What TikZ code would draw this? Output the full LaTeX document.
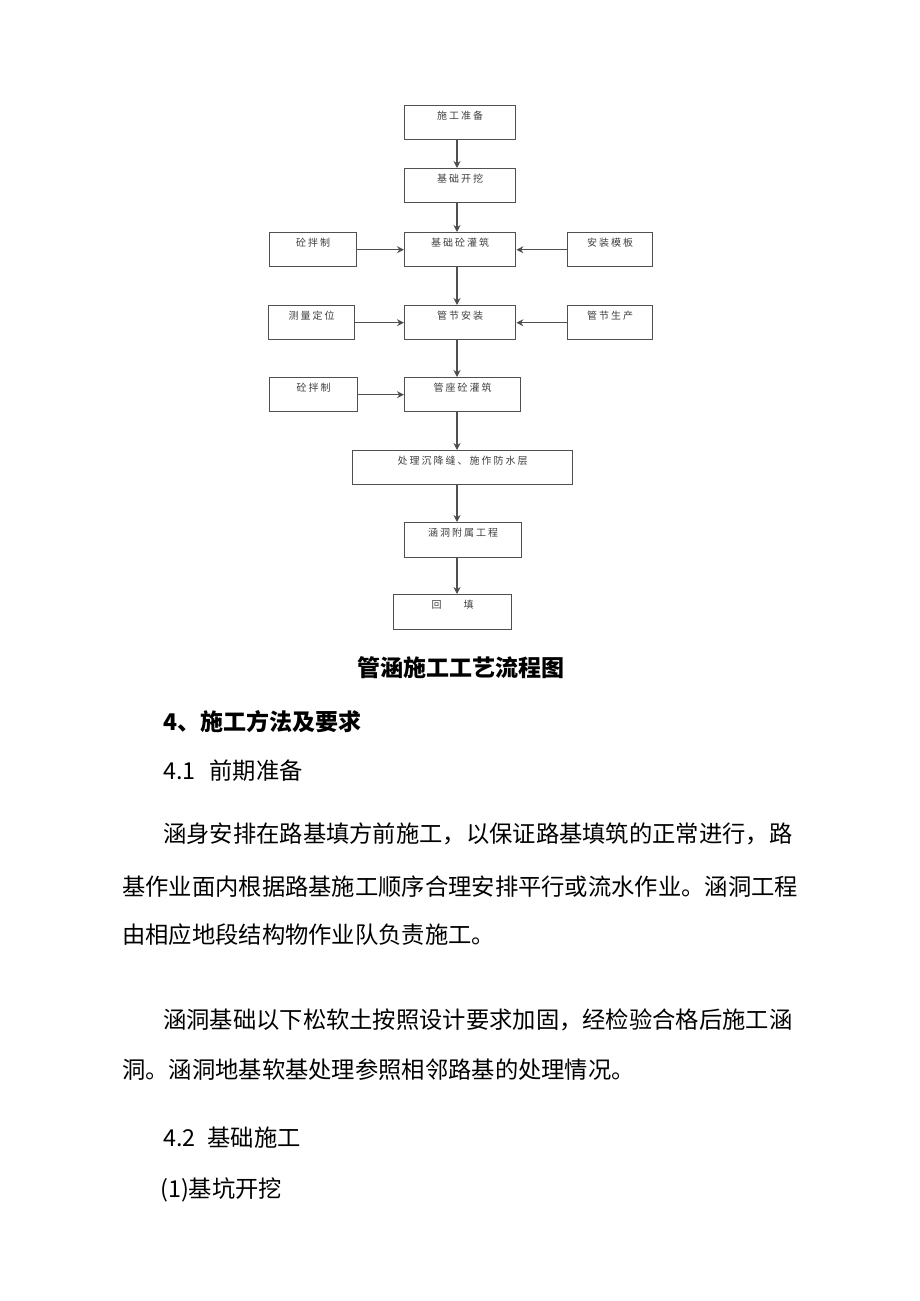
\documentclass[tikz,border=0pt]{standalone}
\usepackage{fontspec}
\setmainfont{Noto Sans CJK SC}
\newfontfamily\boxfont[LetterSpace=20]{Noto Sans CJK SC}
\usetikzlibrary{arrows.meta}
\definecolor{boxline}{HTML}{505050}
\definecolor{boxtext}{HTML}{404040}
\tikzset{
  fbox/.style={draw=boxline, line width=1.4pt, anchor=north west, inner sep=0pt,
    align=center, text height=13.5pt, text depth=20.5pt, text=boxtext,
    font=\boxfont\fontsize{10pt}{12pt}\selectfont},
  arr/.style={draw=boxline, line width=1.1pt, -{Stealth[length=7pt,width=7pt,fill=black]}},
  body/.style={anchor=west, inner sep=0pt, font=\fontsize{23.3pt}{26pt}\selectfont},
  bodyb/.style={anchor=west, inner sep=0pt, font=\bfseries\fontsize{23pt}{26pt}\selectfont},
}
\begin{document}
\begin{tikzpicture}[x=1pt,y=-1pt]
\useasboundingbox[fill=white] (0,0) rectangle (920,1301);
\coordinate (ax) at (457,0);
% main column
\node[fbox, minimum width=111pt, minimum height=34pt] (b1) at (404,105) {施工准备};
\node[fbox, minimum width=111pt, minimum height=34pt] (b2) at (404,168) {基础开挖};
\node[fbox, minimum width=111pt, minimum height=34pt] (b3) at (404,232) {基础砼灌筑};
\node[fbox, minimum width=87pt, minimum height=34pt] (l3) at (269,232) {砼拌制};
\node[fbox, minimum width=85pt, minimum height=34pt] (r3) at (567,232) {安装模板};
\node[fbox, minimum width=111pt, minimum height=34pt] (b4) at (404,305) {管节安装};
\node[fbox, minimum width=86pt, minimum height=34pt] (l4) at (268,305) {测量定位};
\node[fbox, minimum width=85pt, minimum height=34pt] (r4) at (567,305) {管节生产};
\node[fbox, minimum width=116pt, minimum height=34pt] (b5) at (404,377) {管座砼灌筑};
\node[fbox, minimum width=88pt, minimum height=34pt] (l5) at (269,377) {砼拌制};
\node[fbox, minimum width=220pt, minimum height=33pt] (b6) at (352,450) {处理沉降缝、施作防水层};
\node[fbox, minimum width=117pt, minimum height=35pt] (b7) at (404,522) {涵洞附属工程};
\node[fbox, minimum width=118pt, minimum height=35pt] (b8) at (393,594) {回\hspace{22pt}填};
% arrows
\draw[arr] (b1.south -| ax) -- (b2.north -| ax);
\draw[arr] (b2.south -| ax) -- (b3.north -| ax);
\draw[arr] (b3.south -| ax) -- (b4.north -| ax);
\draw[arr] (b4.south -| ax) -- (b5.north -| ax);
\draw[arr] (b5.south -| ax) -- (b6.north -| ax);
\draw[arr] (b6.south -| ax) -- (b7.north -| ax);
\draw[arr] (b7.south -| ax) -- (b8.north -| ax);
\draw[arr] (l3.east) -- (b3.west);
\draw[arr] (r3.west) -- (b3.east);
\draw[arr] (l4.east) -- (b4.west);
\draw[arr] (r4.west) -- (b4.east);
\draw[arr] (l5.east) -- (b5.west);
% text
\node[bodyb] (cap) at (357,668) {管涵施工工艺流程图};
\node[bodyb] (h4) at (163,722) {4、施工方法及要求};
\node[body] (h41) at (163,771) {4.1\hspace{14pt}前期准备};
\node[body] (p1) at (163,834) {涵身安排在路基填方前施工，以保证路基填筑的正常进行，路};
\node[body] (p2) at (122,887) {基作业面内根据路基施工顺序合理安排平行或流水作业。涵洞工程};
\node[body] (p3) at (122,935) {由相应地段结构物作业队负责施工。};
\node[body] (p4) at (163,1020) {涵洞基础以下松软土按照设计要求加固，经检验合格后施工涵};
\node[body] (p5) at (122,1070) {洞。涵洞地基软基处理参照相邻路基的处理情况。};
\node[body] (h42) at (163,1138) {4.2\hspace{12pt}基础施工};
\node[body] (h421) at (160,1190) {(1)基坑开挖};
\end{tikzpicture}
\end{document}
